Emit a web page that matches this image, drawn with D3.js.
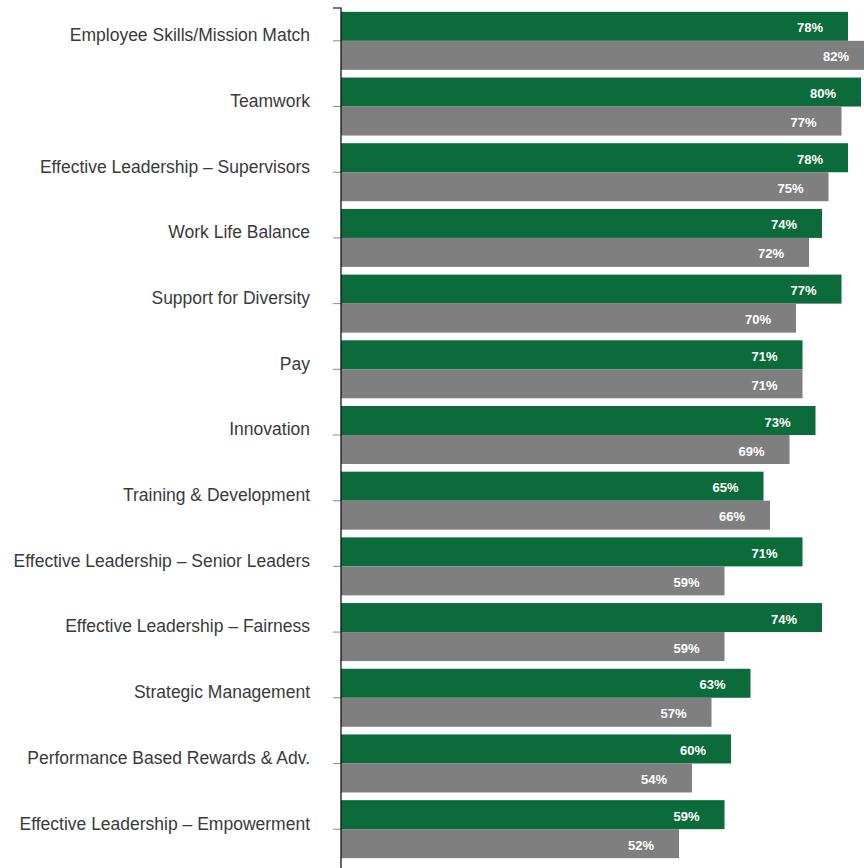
<!DOCTYPE html>
<html>
<head>
<meta charset="utf-8">
<script src="https://cdn.jsdelivr.net/npm/d3@7"></script>
<style>
  html, body { margin: 0; padding: 0; background: #fff; overflow: hidden; }
  svg { display: block; }
</style>
</head>
<body>
<script>
const categories = [
  "Employee Skills/Mission Match",
  "Teamwork",
  "Effective Leadership – Supervisors",
  "Work Life Balance",
  "Support for Diversity",
  "Pay",
  "Innovation",
  "Training & Development",
  "Effective Leadership – Senior Leaders",
  "Effective Leadership – Fairness",
  "Strategic Management",
  "Performance Based Rewards & Adv.",
  "Effective Leadership – Empowerment"
];
const seriesNames = ["Green", "Gray"];
const greenValues = [78, 80, 78, 74, 77, 71, 73, 65, 71, 74, 63, 60, 59];
const grayValues  = [82, 77, 75, 72, 70, 71, 69, 66, 59, 59, 57, 54, 52];
const seriesColors = ["#0b6b3a", "#7f7f7f"];

const W = 864, H = 868;
const svg = d3.select("body").append("svg").attr("width", W).attr("height", H);

const x = d3.scaleLinear().domain([0, 100]).range([341, 991]);
const y = d3.scaleBand().domain(categories).range([8, 862]).paddingInner(0.117).paddingOuter(0.0585);
const ys = d3.scaleBand().domain(seriesNames).range([0, y.bandwidth()]);

const rows = [];
categories.forEach((c, i) => {
  rows.push({ cat: c, s: seriesNames[0], v: greenValues[i], color: seriesColors[0] });
  rows.push({ cat: c, s: seriesNames[1], v: grayValues[i], color: seriesColors[1] });
});

svg.append("g").selectAll("rect").data(rows).join("rect")
  .attr("x", x(0))
  .attr("y", d => y(d.cat) + ys(d.s))
  .attr("width", d => x(d.v) - x(0))
  .attr("height", ys.bandwidth())
  .attr("fill", d => d.color);

svg.append("g").selectAll("text").data(rows).join("text")
  .attr("x", d => x(d.v) - 25)
  .attr("y", d => y(d.cat) + ys(d.s) + ys.bandwidth() / 2 + 1.5)
  .attr("dy", "0.35em")
  .attr("text-anchor", "end")
  .attr("fill", "#ffffff")
  .attr("font-family", "Liberation Sans, Arial, sans-serif")
  .attr("font-weight", "bold")
  .attr("font-size", "13px")
  .text(d => d.v + "%");

// axis
const yCenter = d3.scaleBand().domain(categories).range([8, 862]);
const axis = d3.axisLeft(yCenter).tickSize(8).tickSizeOuter(0).tickPadding(23);
const ag = svg.append("g").attr("transform", `translate(${x(0)},0)`).call(axis);
ag.select(".domain").remove();
ag.selectAll(".tick line").attr("stroke", "#8a8a8a");
ag.selectAll(".tick text")
  .attr("fill", "#3a3a3a")
  .attr("font-family", "Liberation Sans, Arial, sans-serif")
  .attr("font-size", "17.5px")
  .attr("dy", "0.02em");

svg.append("line")
  .attr("x1", x(0)).attr("x2", x(0))
  .attr("y1", 7.5).attr("y2", H)
  .attr("stroke", "#111").attr("stroke-width", 1.3);
svg.append("line")
  .attr("x1", x(0) - 8).attr("x2", x(0))
  .attr("y1", 8).attr("y2", 8)
  .attr("stroke", "#222").attr("stroke-width", 1.2);
</script>
</body>
</html>
